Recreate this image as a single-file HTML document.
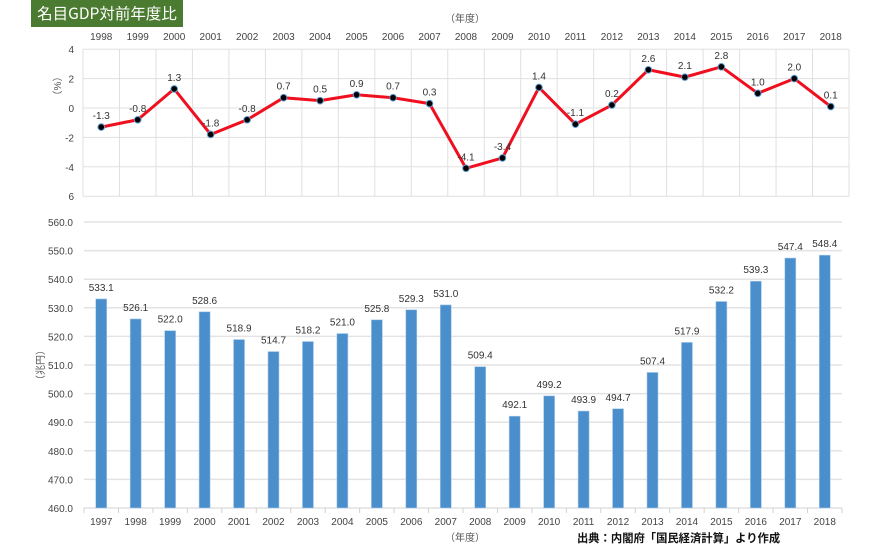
<!DOCTYPE html>
<html><head><meta charset="utf-8"><style>
body{margin:0;background:#fff;width:882px;height:544px;overflow:hidden;font-family:"Liberation Sans","Noto Sans CJK JP",sans-serif}
#title{position:absolute;left:31px;top:0;width:152px;height:27px;background:#4b7a31;color:#fff;font-size:15.5px;line-height:27px;text-align:center;white-space:nowrap;overflow:hidden;font-family:"Noto Sans CJK JP",sans-serif}
svg{position:absolute;left:0;top:0}
</style></head><body>
<div id="title">名目GDP対前年度比</div>
<svg id="s" width="882" height="544"></svg>
<script>
const growthYears=[1998,1999,2000,2001,2002,2003,2004,2005,2006,2007,2008,2009,2010,2011,2012,2013,2014,2015,2016,2017,2018];
const growthValues=[-1.3,-0.8,1.3,-1.8,-0.8,0.7,0.5,0.9,0.7,0.3,-4.1,-3.4,1.4,-1.1,0.2,2.6,2.1,2.8,1.0,2.0,0.1];
const growthTicks=[4,2,0,-2,-4,-6];
const gdpYears=[1997,1998,1999,2000,2001,2002,2003,2004,2005,2006,2007,2008,2009,2010,2011,2012,2013,2014,2015,2016,2017,2018];
const gdpValues=[533.1,526.1,522.0,528.6,518.9,514.7,518.2,521.0,525.8,529.3,531.0,509.4,492.1,499.2,493.9,494.7,507.4,517.9,532.2,539.3,547.4,548.4];
const gdpTicks=[560,550,540,530,520,510,500,490,480,470,460];

const s=document.getElementById('s');const NS='http://www.w3.org/2000/svg';
function el(t,a,txt){const e=document.createElementNS(NS,t);for(const k in a)e.setAttribute(k,a[k]);if(txt!==undefined)e.textContent=txt;s.appendChild(e);return e;}
const F='"Liberation Sans","Noto Sans CJK JP",sans-serif';
// top chart
const tx0=83,tx1=849,ty=v=>108-(v)*14.7;
const tw=(tx1-tx0)/growthYears.length;const tX=i=>tx0+tw*(i+0.5);
growthTicks.forEach(v=>{let g=el('line',{x1:tx0,x2:tx1,y1:ty(v),y2:ty(v),stroke:'#e0e0e0','stroke-width':1});

let t=el('text',{x:74,y:ty(v)+4,'text-anchor':'end','font-size':10,fill:'#444','font-family':F},v===-6?'6':String(v));
});
for(let i=0;i<=growthYears.length;i++){let l=el('line',{x1:tx0+tw*i,x2:tx0+tw*i,y1:ty(4),y2:ty(-6),stroke:'#e0e0e0','stroke-width':1});
}
growthYears.forEach((y,i)=>{let t=el('text',{x:tX(i),y:40,'text-anchor':'middle','font-size':10,fill:'#444','font-family':F},String(y));
});
let ty1=el('text',{x:465,y:22,'text-anchor':'middle','font-size':10,fill:'#555','font-family':F},'（年度）');

let yt1=el('text',{x:0,y:0,'text-anchor':'middle','font-size':10,fill:'#555','font-family':F,transform:'translate(61,86) rotate(-90)'},'（%）');

let pl=el('polyline',{points:growthValues.map((v,i)=>tX(i)+','+ty(v)).join(' '),fill:'none',stroke:'#f00f1f','stroke-width':3,'stroke-linejoin':'round'});

growthValues.forEach((v,i)=>{let c=el('circle',{cx:tX(i),cy:ty(v),r:3.3,fill:'#000',stroke:'#5b9bd5','stroke-width':1});

let t=el('text',{x:tX(i),y:ty(v)-8,'text-anchor':'middle','font-size':10,fill:'#333','font-family':F},v.toFixed(1));
});
// bottom chart
const bx0=84,bx1=842,by=v=>508-(v-460)*2.86;
const bw=(bx1-bx0)/gdpYears.length;const bX=i=>bx0+bw*(i+0.5);
gdpTicks.forEach(v=>{let g=el('line',{x1:bx0,x2:bx1,y1:by(v),y2:by(v),stroke:v===460?'#d0d0d0':'#e3e3e3','stroke-width':v===460?1:1.5});

let t=el('text',{x:73,y:by(v)+4,'text-anchor':'end','font-size':10,fill:'#444','font-family':F},v.toFixed(1));
});
for(let i=0;i<=gdpYears.length;i++){let l=el('line',{x1:bx0+bw*i,x2:bx0+bw*i,y1:508,y2:513,stroke:'#d0d0d0'});
}
gdpValues.forEach((v,i)=>{let r=el('rect',{x:bX(i)-5.5,y:by(v),width:11,height:508-by(v),fill:'#4a8ecc',stroke:'#a9cbec','stroke-width':0.6});

let t=el('text',{x:bX(i),y:by(v)-8,'text-anchor':'middle','font-size':10,fill:'#333','font-family':F},v.toFixed(1));

let xl=el('text',{x:bX(i),y:525,'text-anchor':'middle','font-size':10,fill:'#444','font-family':F},String(gdpYears[i]));
});
let ty2=el('text',{x:465,y:541,'text-anchor':'middle','font-size':10,fill:'#555','font-family':F},'（年度）');

let yt2=el('text',{x:0,y:0,'text-anchor':'middle','font-size':10,fill:'#555','font-family':F,transform:'translate(44,365) rotate(-90)'},'（兆円）');

let src=el('text',{x:577,y:542,'font-size':11.3,'font-weight':'bold',fill:'#111','font-family':F},'出典：内閣府「国民経済計算」より作成');

</script>
</body></html>
